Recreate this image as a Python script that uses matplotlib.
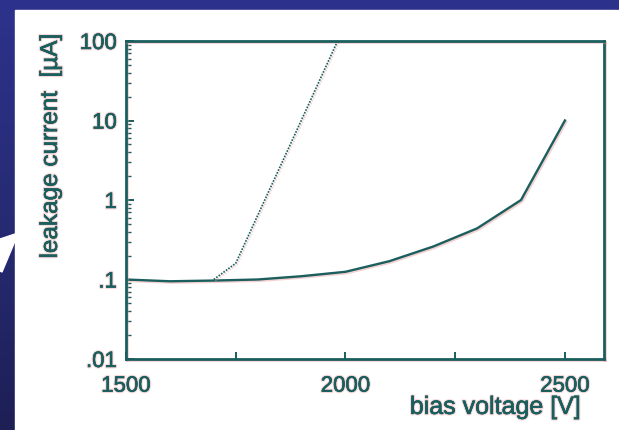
import numpy as np
import matplotlib
matplotlib.use("Agg")
import matplotlib.pyplot as plt
import matplotlib.patheffects as pe
from matplotlib.patches import Rectangle, Polygon
from matplotlib.colors import LinearSegmentedColormap
from matplotlib.ticker import LogLocator, NullFormatter

# solid curve
bias = [1500, 1600, 1700, 1800, 1900, 2000, 2100, 2200, 2300, 2400, 2500]
leak = [0.1, 0.095, 0.097, 0.1, 0.11, 0.125, 0.17, 0.26, 0.44, 1.0, 10.0]

# dotted curve (runs off the top of the frame)
bias_dot = [1700, 1750, 1800, 1850, 1900, 1950, 2000]
leak_dot = [0.1, 0.16, 0.64, 2.55, 10.2, 41.0, 165.0]

xticks = [1500, 1750, 2000, 2250, 2500]
xticklabels = ["1500", "", "2000", "", "2500"]
yticks = [0.01, 0.1, 1, 10, 100]
yticklabels = [".01", ".1", "1", "10", "100"]

ink = "#1a5e5e"
fringe = "#e89a9a"
W, H = 619, 430

plt.rcParams["font.family"] = ["Liberation Sans", "DejaVu Sans"]

# slightly heavy text with the reddish scan fringe
txt_fx = [pe.withStroke(linewidth=2.0, foreground="#f6d6d6"),
          pe.withStroke(linewidth=0.35, foreground=ink)]
line_fx = [pe.SimpleLineShadow(offset=(1, -1), shadow_color=fringe, alpha=0.45),
           pe.Normal()]

fig = plt.figure(figsize=(W / 100, H / 100), dpi=100)

# blue slide background
bg = fig.add_axes([0, 0, 1, 1], zorder=-5)
grad = np.linspace(0, 1, 256).reshape(-1, 1)
cmap = LinearSegmentedColormap.from_list("bg", ["#2d328c", "#272b74", "#1e1f55"])
bg.imshow(grad, aspect="auto", cmap=cmap, extent=[0, 1, 0, 1])
bg.set_xlim(0, 1)
bg.set_ylim(0, 1)
bg.axis("off")

# white panel and the tip of an arrow on the left edge
bg.add_patch(Rectangle((15 / W, 0), 1, 1 - 10 / H, color="white", zorder=2))
arrow = [(15, 234), (15, 241), (2, 272), (0, 271), (0, 239)]
bg.add_patch(Polygon([(x / W, 1 - y / H) for x, y in arrow], color="white", zorder=2))

ax = fig.add_axes([126 / W, 1 - 359 / H, 478 / W, 318 / H])
ax.set_facecolor("white")
ax.plot(bias, leak, color=ink, lw=1.7, path_effects=line_fx)
ax.plot(bias_dot, leak_dot, color=ink, lw=1.2, ls=(0, (1, 0.8)), path_effects=line_fx)

ax.set_yscale("log")
ax.set_xlim(1500, 2589)
ax.set_ylim(0.01, 100)

ax.set_xticks(xticks, xticklabels)
ax.set_yticks(yticks, yticklabels)
ax.yaxis.set_minor_locator(LogLocator(base=10, subs=np.arange(2, 10)))
ax.yaxis.set_minor_formatter(NullFormatter())

ax.tick_params(axis="both", which="both", direction="in", colors=ink,
               top=False, right=False, labelsize=16)
ax.tick_params(axis="y", which="major", length=6, width=1.4, pad=6.5)
ax.tick_params(axis="y", which="minor", length=3.5, width=1.0)
ax.tick_params(axis="x", which="major", length=5, width=1.4, pad=12)
for lab in ax.get_xticklabels() + ax.get_yticklabels():
    lab.set_path_effects(txt_fx)

for s in ax.spines.values():
    s.set_color(ink)
    s.set_linewidth(2.0)
    s.set_path_effects(line_fx)

ax.set_ylabel("leakage current  [µA]", fontsize=17.5, color=ink, path_effects=txt_fx)
ax.yaxis.set_label_coords(-0.134, 0.668)
ax.set_xlabel("bias voltage [V]", fontsize=18, color=ink, path_effects=txt_fx)
ax.xaxis.set_label_coords(0.772, -0.113)

fig.savefig("out.png", dpi=100)
